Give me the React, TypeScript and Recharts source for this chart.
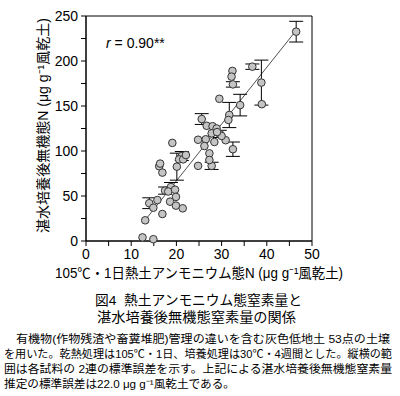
import {
  ScatterChart,
  Scatter,
  XAxis,
  YAxis,
  ErrorBar,
  ReferenceLine,
  ReferenceArea,
} from "recharts";

// 105℃・1日熱土アンモニウム態N (x)
const nh4N = [
  12.5, 14.9, 13.1, 14.0, 14.9, 15.8, 16.9, 16.2, 16.4, 16.9,
  17.5, 18.2, 18.8, 19.7, 19.9, 18.6, 19.9, 21.4, 19.1, 20.1,
  20.6, 21.5, 21.2, 22.1, 24.8, 24.8, 25.6, 26.7, 28.0, 28.9,
  27.8, 29.6, 26.5, 28.4, 30.9, 26.2, 27.3, 27.3, 27.8, 32.5,
  29.5, 31.5, 31.7, 34.1, 32.4, 32.2, 32.5, 36.8, 38.8, 38.9,
  46.5, 30.0, 29.0,
];
// 湛水培養後無機態N (y)
const inorgN = [
  4, 2, 23, 42, 37, 45.5, 30, 83, 86, 76,
  56, 55, 60, 57, 49, 43.7, 39.3, 36.3, 109, 82.6,
  90.7, 90.7, 94.4, 95.5, 112.5, 83.5, 135.5, 128, 127.5, 125,
  119.6, 119, 113, 110, 112, 105.5, 97.4, 90, 83.5, 102,
  158, 134.5, 140, 151, 189, 182.6, 174, 193.7, 176, 152,
  232.6, 116.7, 121,
];
// 2連の標準誤差 (0 = 図で見えない)
const inorgSE = [
  0, 0, 0, 6, 0, 0, 0, 0, 0, 0,
  4, 0, 5, 0, 0, 0, 0, 0, 0, 15,
  0, 0, 5, 0, 0, 0, 6, 0, 0, 0,
  0, 4, 0, 0, 0, 0, 0, 0, 4, 8,
  0, 0, 14, 12, 0, 0, 3, 3, 25, 0,
  11.5, 0, 0,
];

// 回帰直線の両端
const fitLine = [
  { x: 12.9, y: 22 },
  { x: 46.5, y: 234 },
];

const xTicks = [0, 5, 10, 15, 20, 25, 30, 35, 40, 45, 50];
const yTicks = [0, 25, 50, 75, 100, 125, 150, 175, 200, 225, 250];

const bodyLines = [
  "　有機物(作物残渣や畜糞堆肥)管理の違いを含む灰色低地土 53点の土壌",
  "を用いた。乾熱処理は105℃・1日、培養処理は30℃・4週間とした。縦横の範",
  "囲は各試料の 2連の標準誤差を示す。上記による湛水培養後無機態窒素量",
  "推定の標準誤差は22.0 μg g⁻¹風乾土である。",
];

const points = nh4N.map((x, i) => ({ x, y: inorgN[i], se: inorgSE[i] }));
const withSE = points.filter((p) => p.se > 0);
const noSE = points.filter((p) => p.se === 0);

const FONT = '"Liberation Sans", Arial, "Noto Sans CJK JP", sans-serif';

const Dot = (props: any) => (
  <circle cx={props.cx} cy={props.cy} r={3.8} fill="#c4c4c4" stroke="#333" strokeWidth={1} />
);

export default function App() {
  return (
    <div style={{ position: "absolute", left: 0, top: 0, width: 400, height: 396, background: "#fff" }}>
      <ScatterChart
        width={400}
        height={396}
        margin={{ top: 16, right: 88, left: 36, bottom: 125 }}
        style={{ position: "absolute", left: 0, top: 0 }}
      >
        <XAxis
          type="number"
          dataKey="x"
          domain={[0, 50]}
          ticks={xTicks}
          interval={0}
          height={30}
          tickSize={5}
          tickMargin={3}
          stroke="#000"
          tick={{ fill: "#000", fontSize: 14, fontFamily: FONT }}
          tickFormatter={(v: number) => (v % 10 === 0 ? String(v) : "")}
        />
        <YAxis
          type="number"
          dataKey="y"
          domain={[0, 250]}
          ticks={yTicks}
          interval={0}
          width={50}
          tickSize={5}
          tickMargin={3}
          stroke="#000"
          tick={{ fill: "#000", fontSize: 14, fontFamily: FONT }}
          tickFormatter={(v: number) => (v % 50 === 0 ? String(v) : "")}
        />
        <ReferenceArea x1={0} x2={50} y1={0} y2={250} fill="none" stroke="#000" strokeWidth={1} />
        <ReferenceLine segment={fitLine} stroke="#222" strokeWidth={0.8} />
        <Scatter data={withSE} shape={Dot} isAnimationActive={false}>
          <ErrorBar dataKey="se" direction="y" width={7} stroke="#000" strokeWidth={1} />
        </Scatter>
        <Scatter data={noSE} shape={Dot} isAnimationActive={false} />
      </ScatterChart>

      <svg
        width={400}
        height={396}
        style={{ position: "absolute", left: 0, top: 0, pointerEvents: "none" }}
        fontFamily={FONT}
      >
        <text x={106} y={48} fontSize={14} fill="#000">
          <tspan fontStyle="italic">r</tspan> = 0.90**
        </text>

        <text
          transform="translate(48,125.5) rotate(-90)"
          textAnchor="middle"
          fontSize={14}
          fill="#000"
          textLength={215}
          lengthAdjust="spacingAndGlyphs"
        >
          湛水培養後無機態N (μg g⁻¹風乾土)
        </text>

        <text x={199} y={278} textAnchor="middle" fontSize={14} fill="#000" textLength={288} lengthAdjust="spacingAndGlyphs">
          105℃・1日熱土アンモニウム態N (μg g⁻¹風乾土)
        </text>

        <text x={95} y={305} fontSize={13.5} fill="#000" textLength={207} lengthAdjust="spacingAndGlyphs">
          {"図4\u00A0\u00A0熱土アンモニウム態窒素量と"}
        </text>
        <text x={97} y={322} fontSize={13.5} fill="#000" textLength={199} lengthAdjust="spacingAndGlyphs">
          湛水培養後無機態窒素量の関係
        </text>

        <text x={4} y={343} fontSize={11.5} fill="#000" textLength={386} lengthAdjust="spacingAndGlyphs">
          {bodyLines[0]}
        </text>
        <text x={4} y={358} fontSize={11} fill="#000" textLength={388} lengthAdjust="spacingAndGlyphs">
          {bodyLines[1]}
        </text>
        <text x={4} y={373} fontSize={11.5} fill="#000" textLength={388} lengthAdjust="spacingAndGlyphs">
          {bodyLines[2]}
        </text>
        <text x={4} y={388} fontSize={11.5} fill="#000" textLength={231} lengthAdjust="spacingAndGlyphs">
          {bodyLines[3]}
        </text>
      </svg>
    </div>
  );
}
